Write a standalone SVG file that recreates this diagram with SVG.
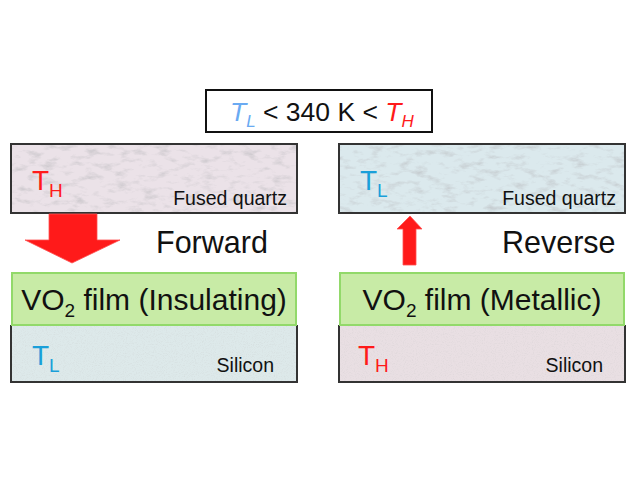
<svg xmlns="http://www.w3.org/2000/svg" width="640" height="479" viewBox="0 0 640 479">
<style>
text{font-family:"Liberation Sans",Arial,sans-serif;}
.lbl{font-size:19.5px;fill:#111;}
.big{font-size:30.5px;fill:#111;}
.film{font-size:30px;fill:#111;}
.red{fill:#ff1a1a;}
.blue{fill:#1a9fd9;}
.frame{fill:none;stroke:#333;stroke-width:2;}
.green{fill:#c8eba6;stroke:#92d96a;stroke-width:2;}
.arrow{fill:#ff1a1a;stroke:#ff5050;stroke-width:0.8;}
</style>
<defs>
<filter id="marble" x="0" y="0" width="100%" height="100%" filterUnits="objectBoundingBox">
<feTurbulence type="fractalNoise" baseFrequency="0.07 0.16" numOctaves="4" seed="7"/>
<feColorMatrix type="matrix" values="0 0 0 0 0.45  0 0 0 0 0.45  0 0 0 0 0.47  2.6 0 0 0 -1.3"/>
<feComposite in2="SourceGraphic" operator="in"/>
</filter>
<filter id="speckle" x="0" y="0" width="100%" height="100%" filterUnits="objectBoundingBox">
<feTurbulence type="fractalNoise" baseFrequency="0.9" numOctaves="2" seed="2"/>
<feColorMatrix type="matrix" values="0 0 0 0 0.55  0 0 0 0 0.55  0 0 0 0 0.55  1.8 0 0 0 -0.85"/>
<feComposite in2="SourceGraphic" operator="in"/>
</filter>
</defs>
<rect width="640" height="479" fill="#ffffff"/>

<g id="condition">
<rect x="206" y="90" width="226" height="42" fill="#fff" stroke="#111" stroke-width="2"/>
<text x="230" y="121" style="font-size:26.5px" fill="#111"><tspan font-style="italic" fill="#6aaaf2">T</tspan><tspan font-style="italic" fill="#6aaaf2" font-size="17" dy="6">L</tspan><tspan dy="-6"> &lt; 340 K &lt; </tspan><tspan font-style="italic" fill="#ff1a1a">T</tspan><tspan font-style="italic" fill="#ff1a1a" font-size="17" dy="6">H</tspan></text>
</g>

<g id="quartz-left">
<rect x="11" y="144" width="286" height="69" fill="#ebe2e8"/>
<rect x="11" y="144" width="286" height="69" fill="#000" filter="url(#marble)" opacity="0.5"/>
<rect x="11" y="144" width="286" height="69" class="frame"/>
<text x="32" y="190" class="red" style="font-size:28px">T<tspan font-size="19" dy="7">H</tspan></text>
<text x="287" y="205" class="lbl" text-anchor="end">Fused quartz</text>
</g>

<g id="quartz-right">
<rect x="339" y="144" width="286" height="69" fill="#dbe9ed"/>
<rect x="339" y="144" width="286" height="69" fill="#000" filter="url(#marble)" opacity="0.5"/>
<rect x="339" y="144" width="286" height="69" class="frame"/>
<text x="360" y="190" class="blue" style="font-size:28px">T<tspan font-size="19" dy="7">L</tspan></text>
<text x="616" y="205" class="lbl" text-anchor="end">Fused quartz</text>
</g>

<g id="silicon-left">
<rect x="11" y="325" width="286" height="57" fill="#dde9ea"/>
<rect x="11" y="325" width="286" height="57" fill="#000" filter="url(#speckle)" opacity="0.35"/>
<path d="M11 325 V382 H297 V325" class="frame"/>
<text x="32" y="365" class="blue" style="font-size:28px">T<tspan font-size="19" dy="7">L</tspan></text>
<text x="274" y="372" class="lbl" text-anchor="end">Silicon</text>
</g>

<g id="silicon-right">
<rect x="339" y="325" width="286" height="57" fill="#e9dfe3"/>
<rect x="339" y="325" width="286" height="57" fill="#000" filter="url(#speckle)" opacity="0.35"/>
<path d="M339 325 V382 H625 V325" class="frame"/>
<text x="358" y="365" class="red" style="font-size:28px">T<tspan font-size="19" dy="7">H</tspan></text>
<text x="603" y="372" class="lbl" text-anchor="end">Silicon</text>
</g>

<g id="film-left">
<rect x="12" y="273" width="284" height="52" class="green"/>
<text x="154" y="310" class="film" text-anchor="middle">VO<tspan font-size="19" dy="7">2</tspan><tspan dy="-7"> film (Insulating)</tspan></text>
</g>

<g id="film-right">
<rect x="340" y="273" width="284" height="52" class="green"/>
<text x="482" y="310" class="film" text-anchor="middle">VO<tspan font-size="19" dy="7">2</tspan><tspan dy="-7"> film (Metallic)</tspan></text>
</g>

<g id="connectors">
<polygon class="arrow" points="49,214 97,214 97,240 120,240 72,263 25,240 49,240"/>
<polygon class="arrow" points="403,265 416,265 416,229 422,229 410,216 397,229 403,229"/>
</g>

<g id="labels">
<text x="156" y="253" class="big">Forward</text>
<text x="502" y="253" class="big">Reverse</text>
</g>
</svg>
